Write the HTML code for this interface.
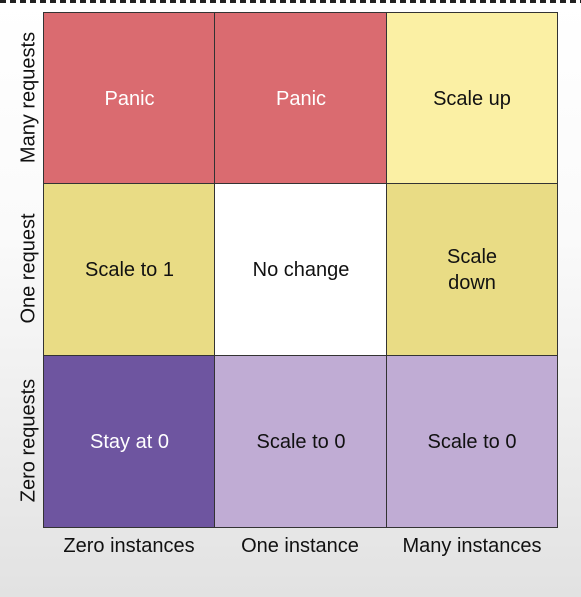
<!DOCTYPE html><html><head><style>
body{margin:0;width:581px;height:597px;overflow:hidden;background:linear-gradient(#fff 0%,#fafafa 40%,#e2e2e2 100%);font-family:"Liberation Sans",sans-serif;position:relative}
.c{position:absolute;display:flex;align-items:center;justify-content:center;text-align:center;font-size:20px;color:#111;box-sizing:border-box;border:1.5px solid #333;line-height:26px}
.w{color:#fff}
.r{position:absolute;font-size:20px;color:#111;transform:rotate(-90deg);white-space:nowrap;width:172px;text-align:center}
.b{position:absolute;font-size:20px;color:#111;width:172px;text-align:center;top:535px}
.dash{position:absolute;top:0;left:0;width:581px;height:3px;background:repeating-linear-gradient(90deg,#222 0 6px,transparent 6px 10px)}
</style></head><body>
<div class="dash"></div>
<div class="c w" style="left:43px;top:12px;width:173px;height:173px;background:#da6b70">Panic</div>
<div class="c w" style="left:214px;top:12px;width:174px;height:173px;background:#da6b70">Panic</div>
<div class="c" style="left:386px;top:12px;width:172px;height:173px;background:#fbf0a4">Scale up</div>
<div class="c" style="left:43px;top:183px;width:173px;height:174px;background:#e9dc85">Scale to 1</div>
<div class="c" style="left:214px;top:183px;width:174px;height:174px;background:#fff">No change</div>
<div class="c" style="left:386px;top:183px;width:172px;height:174px;background:#e9dc85">Scale<br>down</div>
<div class="c w" style="left:43px;top:355px;width:173px;height:173px;background:#6e55a0">Stay at 0</div>
<div class="c" style="left:214px;top:355px;width:174px;height:173px;background:#c0acd4">Scale to 0</div>
<div class="c" style="left:386px;top:355px;width:172px;height:173px;background:#c0acd4">Scale to 0</div>
<div class="r" style="left:-57px;top:86px">Many requests</div>
<div class="r" style="left:-57px;top:257px">One request</div>
<div class="r" style="left:-57px;top:429px">Zero requests</div>
<div class="b" style="left:43px">Zero instances</div>
<div class="b" style="left:214px">One instance</div>
<div class="b" style="left:386px">Many instances</div>
</body></html>
